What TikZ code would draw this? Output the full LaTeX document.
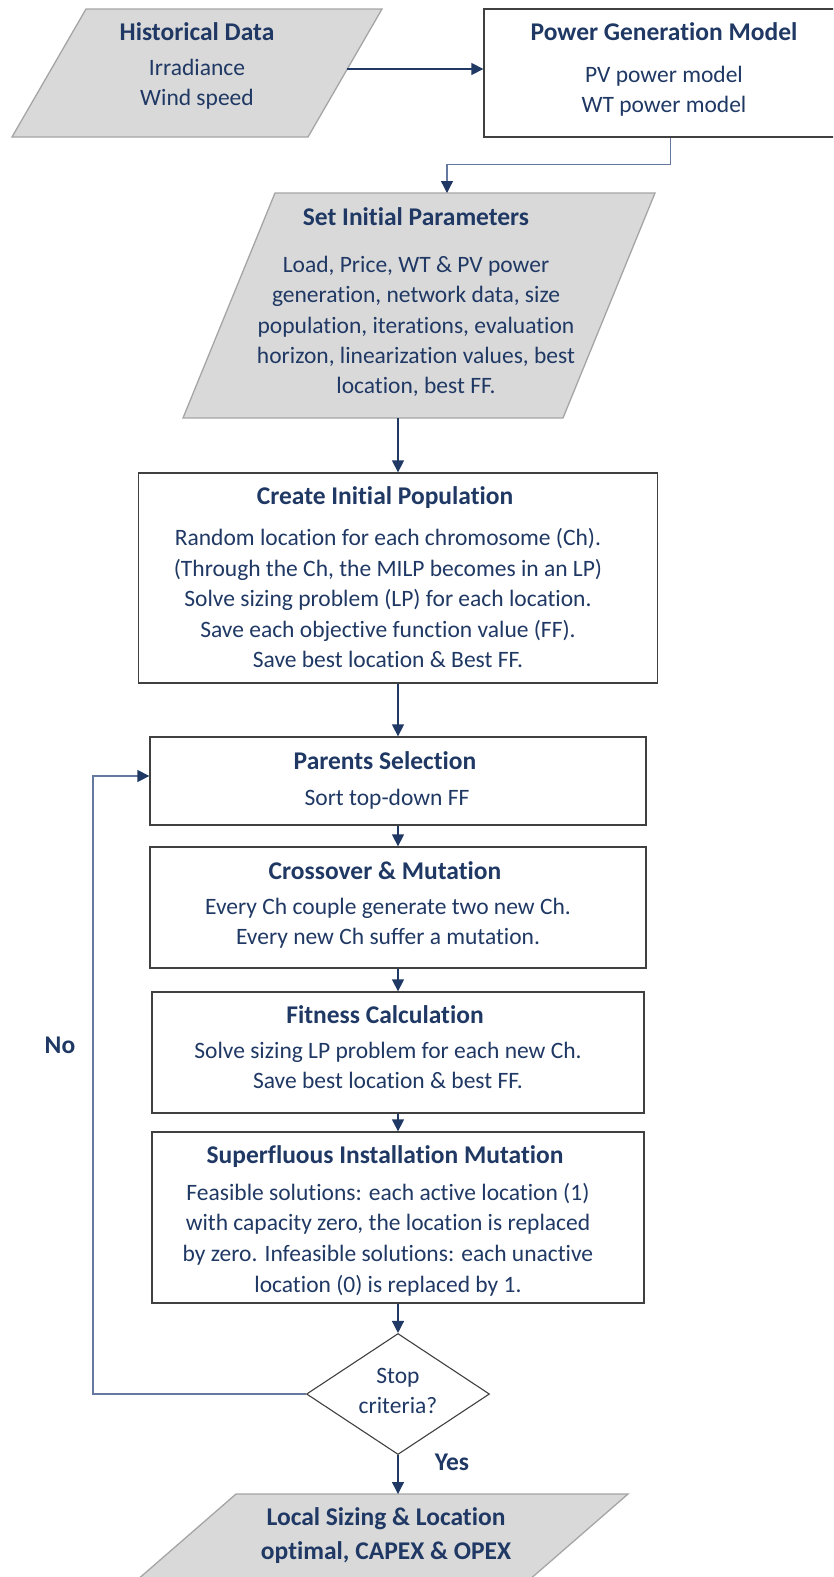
\documentclass[tikz,border=0pt]{standalone}
\usepackage{fontspec}
\setmainfont{Carlito}[Ligatures={NoCommon,NoContextual}]
\usetikzlibrary{arrows.meta,shapes.geometric}
\definecolor{navy}{RGB}{31,56,100}
\definecolor{slate}{RGB}{100,120,160}
\definecolor{boxline}{RGB}{64,64,64}
\definecolor{datafill}{RGB}{217,217,217}
\definecolor{dataline}{RGB}{165,165,165}

\begin{document}
\begin{tikzpicture}[x=1pt,y=-1pt,
  procbox/.style={draw=boxline,line width=1.3pt,fill=white,inner sep=0pt},
  databox/.style={draw=dataline,line width=1.3pt,fill=datafill},
  heading/.style={text=navy,font=\fontsize{25.5}{30}\selectfont\bfseries,inner sep=0pt,text height=17pt,text depth=5pt},
  bodytext/.style={text=navy,font=\fontsize{23.5}{30}\selectfont,inner sep=0pt,text height=16pt,text depth=5pt},
  flow/.style={draw=navy,line width=1.3pt,-{Triangle[length=12pt,width=12pt]}},
  backline/.style={draw=slate,line width=1.3pt,-{Triangle[length=12pt,width=12pt,color=navy,fill=navy]}},
]
\useasboundingbox (0,0) rectangle (833,1577);
\clip (0,0) rectangle (833,1577);

% ---------- input data ----------
\path[databox] (86,9) -- (382,9) -- (308,137) -- (12,137) -- cycle;
\coordinate (hd-e) at (347,69);
\node[heading]  (hd-t) at (197,34)  {Historical Data};
\node[bodytext] (hd-1) at (197,70)  {Irradiance};
\node[bodytext] (hd-2) at (197,100) {Wind speed};

% ---------- power generation model ----------
\node[procbox,minimum width=361pt,minimum height=128pt] (pgm) at (664.5,73) {};
\node[heading]  (pgm-t) at (664,34)  {Power Generation Model};
\node[bodytext] (pgm-1) at (664,77)  {PV power model};
\node[bodytext] (pgm-2) at (664,107) {WT power model};

% ---------- initial parameters ----------
\path[databox] (275,193) -- (655,193) -- (563,418) -- (183,418) -- cycle;
\coordinate (sip-in)  at (447,193);
\coordinate (sip-out) at (398,418);
\node[heading]  (sip-t) at (416,219) {Set Initial Parameters};
\node[bodytext] (sip-1) at (416,267) {Load, Price, WT \& PV power};
\node[bodytext] (sip-2) at (416,297) {generation, network data, size};
\node[bodytext] (sip-3) at (416,328) {population, iterations, evaluation};
\node[bodytext] (sip-4) at (416,358) {horizon, linearization values, best};
\node[bodytext] (sip-5) at (416,388) {location, best FF.};

% ---------- initial population ----------
\node[procbox,minimum width=519pt,minimum height=210pt] (cip) at (398,578) {};
\node[heading]  (cip-t) at (385,498) {Create Initial Population};
\node[bodytext] (cip-1) at (388,540) {Random location for each chromosome (Ch).};
\node[bodytext] (cip-2) at (388,571) {(Through the Ch, the MILP becomes in an LP)};
\node[bodytext] (cip-3) at (388,601) {Solve sizing problem (LP) for each location.};
\node[bodytext] (cip-4) at (388,632) {Save each objective function value (FF).};
\node[bodytext] (cip-5) at (388,662) {Save best location \& Best FF.};

% ---------- parents selection ----------
\node[procbox,minimum width=496pt,minimum height=88pt] (ps) at (398,781) {};
\node[heading]  (ps-t) at (385,763) {Parents Selection};
\node[bodytext] (ps-1) at (387,800) {Sort top-down FF};

% ---------- crossover and mutation ----------
\node[procbox,minimum width=496pt,minimum height=121pt] (cm) at (398,907.5) {};
\node[heading]  (cm-t) at (385,873) {Crossover \& Mutation};
\node[bodytext] (cm-1) at (388,909) {Every Ch couple generate two new Ch.};
\node[bodytext] (cm-2) at (388,939) {Every new Ch suffer a mutation.};

% ---------- fitness ----------
\node[procbox,minimum width=492pt,minimum height=121pt] (fc) at (398,1052.5) {};
\node[heading]  (fc-t) at (385,1017) {Fitness Calculation};
\node[bodytext] (fc-1) at (388,1053) {Solve sizing LP problem for each new Ch.};
\node[bodytext] (fc-2) at (388,1083) {Save best location \& best FF.};

% ---------- superfluous installation mutation ----------
\node[procbox,minimum width=492pt,minimum height=171pt] (sim) at (398,1217.5) {};
\node[heading]  (sim-t) at (385,1157) {Superfluous Installation Mutation};
\node[bodytext] (sim-1) at (388,1195) {Feasible solutions: each active location (1)};
\node[bodytext] (sim-2) at (388,1225) {with capacity zero, the location is replaced};
\node[bodytext] (sim-3) at (388,1256) {by zero. Infeasible solutions: each unactive};
\node[bodytext] (sim-4) at (388,1287) {location (0) is replaced by 1.};

% ---------- decision ----------
\node[diamond,draw=boxline,line width=1.1pt,fill=white,inner sep=0pt,
      minimum width=183pt,minimum height=121pt] (stop) at (398,1394) {};
\node[bodytext] (stop-1) at (398,1378) {Stop};
\node[bodytext] (stop-2) at (398,1408) {criteria?};
\coordinate (ret) at (93,1394);

% ---------- result ----------
\path[databox] (236,1494) -- (628,1494) -- (490,1614) -- (98,1614) -- cycle;
\coordinate (out-in) at (398,1494);
\node[heading] (out-1) at (386,1519) {Local Sizing \& Location};
\node[heading] (out-2) at (386,1553) {optimal, CAPEX \& OPEX};

% ---------- branch labels ----------
\node[heading] (no)  at (60,1047)  {No};
\node[heading] (yes) at (452,1464) {Yes};

% ---------- connectors ----------
\draw[flow] (hd-e) -- (hd-e -| pgm.west);
\draw[backline] ([xshift=6pt]pgm.south) -- ++(0,27) -| (sip-in);
\draw[flow] (sip-out) -- (cip.north);
\draw[flow] (cip.south) -- (ps.north);
\draw[flow] (ps.south) -- (cm.north);
\draw[flow] (cm.south) -- (fc.north);
\draw[flow] (fc.south) -- (sim.north);
\draw[flow] (sim.south) -- (stop.north);
\draw[flow] (stop.south) -- (out-in);
\draw[backline] (stop.west) -- (ret) |- ([yshift=5pt]ps.west);
\end{tikzpicture}
\end{document}
